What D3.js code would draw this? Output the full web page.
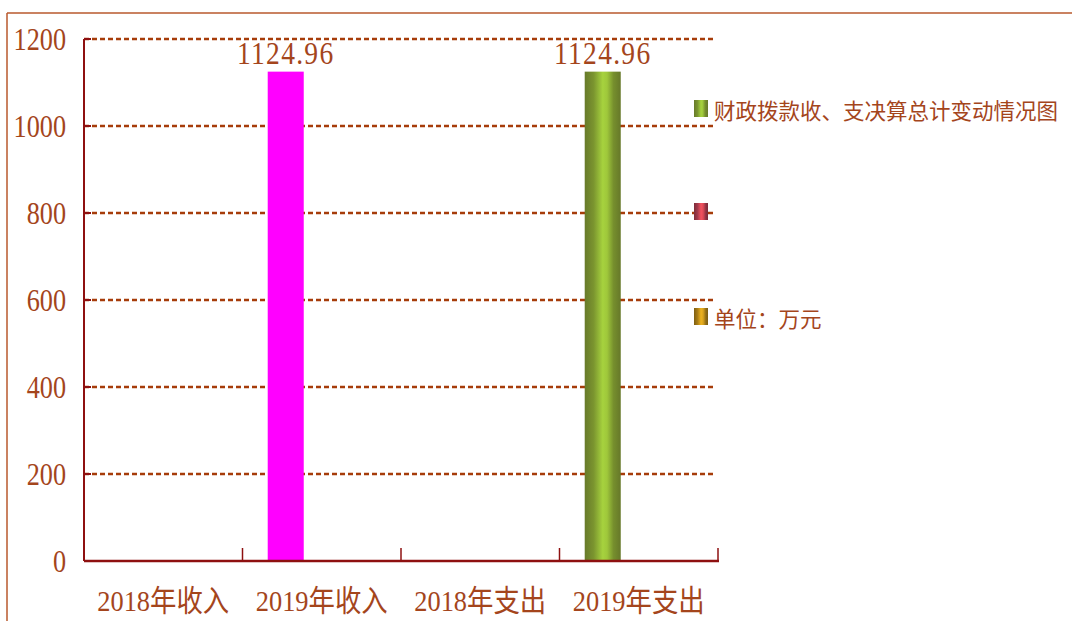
<!DOCTYPE html>
<html>
<head>
<meta charset="utf-8">
<script src="https://cdn.jsdelivr.net/npm/d3@7"></script>
<style>
  html, body { margin: 0; padding: 0; background: #fff; }
  svg { display: block; }
</style>
</head>
<body>
<svg id="chart" width="1072" height="621"></svg>
<script>
// ---- data ----
const categories = ["2018年收入", "2019年收入", "2018年支出", "2019年支出"];
const seriesNames = ["财政拨款收、支决算总计变动情况图", "", "单位：万元"];
const series1Values = [null, 1124.96, null, 1124.96];
const series2Values = [null, null, null, null];
const series3Values = [null, null, null, null];
const yTickValues = [0, 200, 400, 600, 800, 1000, 1200];
const pointColorOverrides = { "2019年收入": "pink" }; // series 1 override

// ---- setup ----
const W = 1072, H = 621;
const plot = { left: 84, right: 718, top: 39, bottom: 561 };
const textColor = "#A4451C";
const gridColor = "#A63C0A";
const axisColor = "#8E1010";
const numFont = "'Liberation Serif', 'DejaVu Serif', serif";
const cjkFont = "'Liberation Serif', 'Noto Sans CJK SC', serif";

const svg = d3.select("#chart");
const defs = svg.append("defs");

function hGrad(id, stops) {
  const g = defs.append("linearGradient").attr("id", id)
    .attr("x1", "0%").attr("x2", "100%").attr("y1", "0%").attr("y2", "0%");
  stops.forEach(([o, c]) => g.append("stop").attr("offset", o).attr("stop-color", c));
}
hGrad("gGreen", [["0%", "#677a2a"], ["25%", "#7b952f"], ["50%", "#a6d23e"], ["62%", "#9fc83b"], ["80%", "#768f2d"], ["100%", "#667829"]]);
hGrad("gRed", [["0%", "#7c2c3a"], ["25%", "#a33a4b"], ["50%", "#f2525f"], ["65%", "#e04b58"], ["85%", "#8e3242"], ["100%", "#7a2a39"]]);
hGrad("gGold", [["0%", "#7d5e12"], ["25%", "#a97d16"], ["50%", "#ecb21f"], ["65%", "#dba41d"], ["85%", "#8f6c14"], ["100%", "#7b5c12"]]);
const fills = ["url(#gGreen)", "url(#gRed)", "url(#gGold)"];
const overrideFill = { pink: "#FF00FF" };

// outer frame
svg.append("line").attr("x1", 7).attr("x2", W).attr("y1", 13).attr("y2", 13)
  .attr("stroke", "#B9592C").attr("stroke-width", 1.5);
svg.append("line").attr("x1", 7).attr("x2", 7).attr("y1", 13).attr("y2", H)
  .attr("stroke", "#B9592C").attr("stroke-width", 1.5);

// scales
const x = d3.scaleBand().domain(categories).range([plot.left, plot.right]).paddingInner(0).paddingOuter(0);
const xs = d3.scaleBand().domain(d3.range(seriesNames.length)).range([0, x.bandwidth()]).paddingInner(0).paddingOuter(0.7);
const y = d3.scaleLinear().domain([0, 1200]).range([plot.bottom, plot.top]);

// gridlines
svg.append("g").selectAll("line").data(yTickValues.filter(v => v > 0)).join("line")
  .attr("x1", plot.left).attr("x2", 716)
  .attr("y1", d => y(d)).attr("y2", d => y(d))
  .attr("stroke", gridColor).attr("stroke-width", 2.5)
  .attr("stroke-dasharray", "5,3");

// bars
const allSeries = [series1Values, series2Values, series3Values];
allSeries.forEach((vals, si) => {
  const data = categories.map((c, i) => ({ c, v: vals[i] })).filter(d => d.v != null);
  svg.append("g").selectAll("rect").data(data).join("rect")
    .attr("x", d => x(d.c) + xs(si))
    .attr("width", xs.bandwidth())
    .attr("y", d => y(d.v))
    .attr("height", d => y(0) - y(d.v))
    .attr("fill", d => (si === 0 && pointColorOverrides[d.c]) ? overrideFill[pointColorOverrides[d.c]] : fills[si]);
  // value labels
  const lg = svg.append("g").selectAll("g").data(data).join("g")
    .attr("transform", d => `translate(${x(d.c) + xs(si) + xs.bandwidth() / 2},${y(d.v) - 8}) scale(0.86,1)`);
  lg.append("text")
    .attr("text-anchor", "middle")
    .attr("font-family", numFont).attr("font-size", 32)
    .attr("letter-spacing", 1.5)
    .attr("fill", textColor)
    .text(d => d3.format(".2f")(d.v));
});

// y axis
const yAxisG = svg.append("g");
yAxisG.append("line").attr("x1", plot.left).attr("x2", plot.left)
  .attr("y1", plot.top).attr("y2", plot.bottom)
  .attr("stroke", axisColor).attr("stroke-width", 2);
yAxisG.selectAll("line.tk").data(yTickValues).join("line").attr("class", "tk")
  .attr("x1", plot.left).attr("x2", plot.left + 7)
  .attr("y1", d => y(d)).attr("y2", d => y(d))
  .attr("stroke", axisColor).attr("stroke-width", 2);
yAxisG.selectAll("g.lb").data(yTickValues).join("g").attr("class", "lb")
  .attr("transform", d => `translate(66,${y(d) + 11}) scale(0.82,1)`)
  .append("text")
  .attr("text-anchor", "end")
  .attr("font-family", numFont).attr("font-size", 32)
  .attr("fill", textColor)
  .text(d => d);

// x axis
const xAxisG = svg.append("g");
xAxisG.append("line").attr("x1", plot.left).attr("x2", plot.right + 1)
  .attr("y1", plot.bottom).attr("y2", plot.bottom)
  .attr("stroke", axisColor).attr("stroke-width", 2.5);
const boundaries = categories.map(c => x(c)).concat([plot.right]);
xAxisG.selectAll("line.tk").data(boundaries).join("line").attr("class", "tk")
  .attr("x1", d => d).attr("x2", d => d)
  .attr("y1", plot.bottom).attr("y2", plot.bottom - 13)
  .attr("stroke", axisColor).attr("stroke-width", 1.5);
xAxisG.selectAll("g.lb").data(categories).join("g").attr("class", "lb")
  .attr("transform", d => `translate(${x(d) + x.bandwidth() / 2},611) scale(0.88,1)`)
  .append("text")
  .attr("text-anchor", "middle")
  .attr("font-family", cjkFont).attr("font-size", 30)
  .attr("fill", textColor)
  .text(d => d);

// legend
const legendY = [108, 211, 316];
const leg = svg.append("g").selectAll("g").data(seriesNames).join("g")
  .attr("transform", (d, i) => `translate(694,${legendY[i]})`);
leg.append("rect").attr("x", 0).attr("y", -8).attr("width", 14).attr("height", 17)
  .attr("fill", (d, i) => fills[i]);
leg.append("text").attr("x", 20).attr("y", 1)
  .attr("dominant-baseline", "central")
  .attr("font-family", "'Noto Sans CJK SC', sans-serif").attr("font-size", 21.5)
  .attr("fill", textColor)
  .text(d => d);
</script>
</body>
</html>
